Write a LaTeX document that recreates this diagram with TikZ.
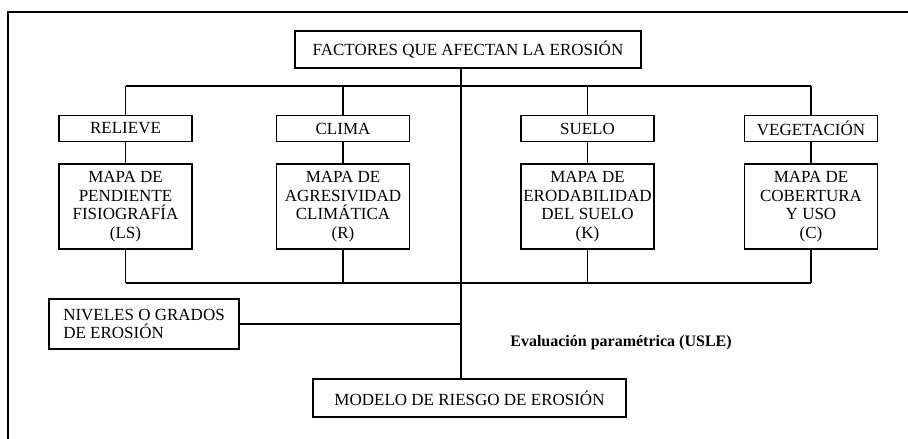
\documentclass[tikz,border=0pt]{standalone}
\usepackage{fontspec}
\setmainfont{Liberation Serif}
\begin{document}
\begin{tikzpicture}[x=1pt,y=-1pt,
  box/.style={draw,line width=1.1pt,inner sep=0pt,align=center,font=\fontsize{17}{18.5}\selectfont},
  catbox/.style={box,minimum width=133pt,minimum height=26pt},
  mapbox/.style={box,minimum width=133pt,minimum height=85pt},
  wire/.style={line width=1.1pt}]
\useasboundingbox (0,0) rectangle (908,439);
\draw[wire] (8,450) -- (8,12) -- (920,12);
\node[box,minimum width=346pt,minimum height=37pt] (top) at (468,49.5) {FACTORES QUE AFECTAN LA EROSIÓN};
\coordinate (c) at (461,86);
\coordinate (bus1) at (461,86);
\coordinate (bus2) at (461,283);
\node[catbox] (r) at (125.5,128.5) {RELIEVE};
\node[catbox] (cl) at (343,128.5) {CLIMA};
\node[catbox] (s) at (587.5,128.5) {SUELO};
\node[catbox] (v) at (811,128.5) {VEGETACIÓN};
\node[mapbox] (mr) at (125.5,206.5) {MAPA DE\\PENDIENTE\\FISIOGRAFÍA\\(LS)};
\node[mapbox] (mc) at (343,206.5) {MAPA DE\\AGRESIVIDAD\\CLIMÁTICA\\(R)};
\node[mapbox] (ms) at (587.5,206.5) {MAPA DE\\ERODABILIDAD\\DEL SUELO\\(K)};
\node[mapbox] (mv) at (811,206.5) {MAPA DE\\COBERTURA\\Y USO\\(C)};
\node[box,minimum width=190pt,minimum height=50pt,align=left] (niv) at (144,324) {NIVELES O GRADOS\\DE EROSIÓN};
\node[box,minimum width=313pt,minimum height=38pt] (mod) at (469.5,398) {MODELO DE RIESGO DE EROSIÓN};
\node[font=\fontsize{16}{18}\selectfont\bfseries] (usle) at (621,343) {Evaluación paramétrica (USLE)};
% top bus
\draw[wire] (top.south -| c) -- (bus1);
\draw[wire] (r.north |- bus1) -- (v.north |- bus1);
\foreach \n in {r,cl,s,v} \draw[wire] (\n.north |- bus1) -- (\n.north);
\foreach \a/\b in {r/mr,cl/mc,s/ms,v/mv} \draw[wire] (\a.south) -- (\b.north);
% bottom bus
\draw[wire] (mr.south |- bus2) -- (mv.south |- bus2);
\foreach \n in {mr,mc,ms,mv} \draw[wire] (\n.south) -- (\n.south |- bus2);
\draw[wire] (bus1) -- (mod.north -| c);
\draw[wire] (niv.east) -- (niv.east -| c);
\end{tikzpicture}
\end{document}
